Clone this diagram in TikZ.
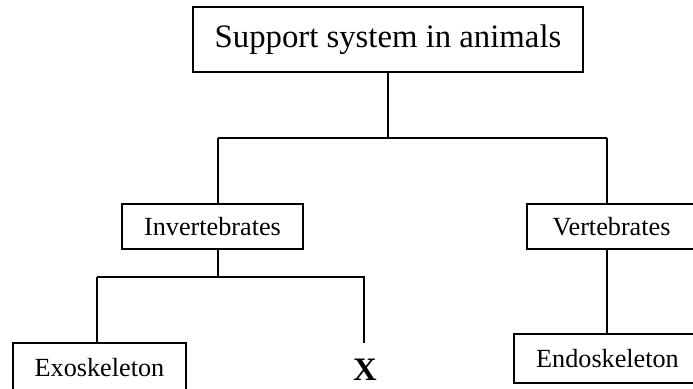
\documentclass[tikz,border=0pt]{standalone}
\usepackage{fontspec}
\setmainfont{Liberation Serif}
\usepackage{tikz}
\usetikzlibrary{positioning}
\tikzset{
  ln/.style={line width=0.6pt,black},
  box/.style={draw,line width=0.6pt,inner sep=0pt,align=center,font=\fontsize{12}{14}\selectfont},
  bigbox/.style={box,font=\fontsize{15}{18}\selectfont}
}
\begin{document}
\begin{tikzpicture}[x=0.458pt,y=0.458pt]
\useasboundingbox (0,0) rectangle (693,389);
\node[bigbox,minimum width=178.6pt,minimum height=29.8pt] (top) at (388,349.5) {Support system in animals};
\node[box,minimum width=82.9pt,minimum height=20.6pt] (invert) at (212.5,162.5) {Invertebrates};
\node[box,minimum width=77.3pt,minimum height=20.6pt] (vert) at (611.5,162.5) {Vertebrates};
\node[box,minimum width=79.2pt,minimum height=22.4pt] (exo) at (99.5,21.5) {Exoskeleton};
\node[box,minimum width=85.6pt,minimum height=22.4pt] (endo) at (607.5,30.5) {Endoskeleton};
\node[font=\fontsize{15}{18}\selectfont\bfseries,inner sep=0pt] (xmark) at (365,19) {X};
% branch points
\coordinate (jTop) at (388,251);
\coordinate (jInv) at (218,251);
\coordinate (jVert) at (607,251);
\coordinate (kInv) at (218,112);
\coordinate (kExo) at (97,112);
\coordinate (kX) at (364,112);
\coordinate (xEnd) at (364,46);
\draw[ln] (top.south) -- (jTop);
\draw[ln] (jInv) -- (jVert);
\draw[ln] (jInv) -- (jInv |- invert.north);
\draw[ln] (jVert) -- (jVert |- vert.north);
\draw[ln] (kInv |- invert.south) -- (kInv);
\draw[ln] (kExo) -- (kX) -- (xEnd);
\draw[ln] (kExo) -- (kExo |- exo.north);
\draw[ln] (jVert |- vert.south) -- (jVert |- endo.north);
\end{tikzpicture}
\end{document}
